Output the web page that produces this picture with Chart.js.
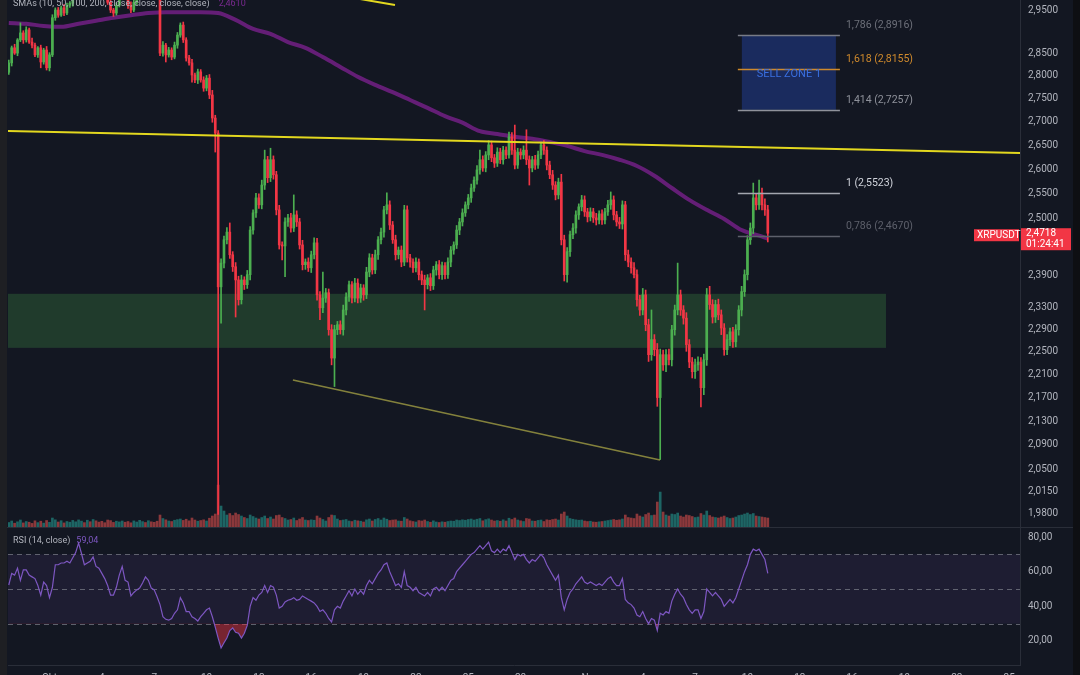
<!DOCTYPE html>
<html>
<head>
<meta charset="utf-8">
<script src="https://cdn.jsdelivr.net/npm/chart.js@4.4.0/dist/chart.umd.min.js"></script>
<style>
  html, body { margin: 0; padding: 0; background: #131722; overflow: hidden; width: 1080px; height: 675px; }
  #wrap { position: relative; width: 1080px; height: 675px; }
  #main { position: absolute; left: 0; top: 0; }
  #rsi { position: absolute; left: 0; top: 528px; }
  .lstrip { position: absolute; left: 0; top: 0; width: 7px; height: 675px; background: #1e1f23; }
  .rstrip { position: absolute; left: 1073px; top: 0; width: 7px; height: 675px; background: #0e0f13; }
</style>
</head>
<body>
<div id="wrap">
  <canvas id="main" width="1080" height="528"></canvas>
  <canvas id="rsi" width="1080" height="160"></canvas>
  <div class="lstrip"></div>
  <div class="rstrip"></div>
</div>
<script>
// XRPUSDT 4h candles, x axis in days since 1 Oct
const firstDay = -2 - 1 / 3;
const firstOpen = 2.808;

const closes = [
  2.829, 2.863, 2.851, 2.881, 2.897, 2.881, 2.904, 2.876, 2.869, 2.847,
  2.863, 2.831, 2.858, 2.818, 2.847, 2.932, 2.950, 2.938, 2.955, 2.943,
  2.961, 2.966, 2.985, 2.992, 3.009, 3.021, 3.016, 3.033, 3.026, 3.040,
  3.021, 3.009, 2.997, 2.985, 2.968, 2.950, 2.943, 2.961, 2.980, 2.992,
  2.980, 2.961, 2.950, 2.968, 2.985, 2.997, 3.009, 3.002, 3.016, 3.002,
  2.992, 2.980, 2.851, 2.869, 2.847, 2.858, 2.842, 2.869, 2.892, 2.915,
  2.881, 2.840, 2.829, 2.802, 2.791, 2.809, 2.791, 2.773, 2.795, 2.758,
  2.708, 2.676, 2.369, 2.414, 2.459, 2.474, 2.430, 2.407, 2.382, 2.345,
  2.382, 2.373, 2.392, 2.478, 2.512, 2.542, 2.528, 2.568, 2.620, 2.583,
  2.620, 2.589, 2.518, 2.449, 2.447, 2.494, 2.502, 2.482, 2.508, 2.494,
  2.449, 2.411, 2.416, 2.405, 2.430, 2.453, 2.354, 2.330, 2.348, 2.358,
  2.290, 2.239, 2.290, 2.299, 2.290, 2.326, 2.350, 2.373, 2.348, 2.376,
  2.348, 2.367, 2.354, 2.397, 2.424, 2.401, 2.430, 2.459, 2.474, 2.518,
  2.528, 2.488, 2.459, 2.430, 2.439, 2.416, 2.518, 2.424, 2.416, 2.405,
  2.416, 2.392, 2.382, 2.373, 2.386, 2.371, 2.401, 2.411, 2.392, 2.409,
  2.392, 2.416, 2.439, 2.449, 2.478, 2.494, 2.512, 2.528, 2.542, 2.562,
  2.578, 2.599, 2.620, 2.603, 2.630, 2.651, 2.624, 2.613, 2.636, 2.620,
  2.640, 2.630, 2.668, 2.640, 2.609, 2.636, 2.630, 2.640, 2.620, 2.603,
  2.620, 2.609, 2.630, 2.651, 2.640, 2.609, 2.589, 2.568, 2.548, 2.574,
  2.459, 2.392, 2.436, 2.469, 2.482, 2.508, 2.524, 2.538, 2.514, 2.504,
  2.514, 2.502, 2.498, 2.510, 2.498, 2.514, 2.528, 2.538, 2.508, 2.494,
  2.490, 2.528, 2.430, 2.416, 2.405, 2.392, 2.345, 2.326, 2.354, 2.299,
  2.245, 2.272, 2.254, 2.170, 2.245, 2.227, 2.245, 2.236, 2.290, 2.326,
  2.354, 2.326, 2.311, 2.263, 2.232, 2.215, 2.227, 2.232, 2.187, 2.236,
  2.354, 2.336, 2.313, 2.336, 2.317, 2.293, 2.254, 2.272, 2.286, 2.268,
  2.290, 2.326, 2.360, 2.392, 2.459, 2.482, 2.542, 2.528, 2.552, 2.528,
  2.518, 2.4718
];

// wick lengths above / below the body, in thousandths
const wickUp = [
  6,4,8,3,23,5,7,4,9,5, 3,6,4,8,5,7,5,6,4,8, 5,4,6,5,7,4,6,5,8,6, 5,7,4,6,8,5,4,6,7,5,
  6,4,8,5,6,7,4,6,5,7, 5,6,10,8,4,6,5,7,6,5, 7,5,6,8,4,6,5,7,6,8, 10,6,5,8,7,9,18,6,8,7,
  9,6,8,7,6,9,8,10,20,7, 24,8,7,9,6,8,7,9,40,8, 7,9,6,8,7,10,9,6,49,8, 7,9,8,6,7,9,8,7,6,9,
  8,7,6,9,8,7,9,6,8,7, 24,8,7,9,6,8,9,8,7,6, 8,6,7,9,6,8,7,6,8,7, 6,8,7,6,9,7,8,6,7,8,
  7,9,20,8,7,9,8,7,9,8, 8,7,10,9,53,8,7,9,43,8, 7,9,8,6,9,7,8,9,7,8, 16,9,8,7,9,8,6,9,8,7,
  8,7,9,6,8,7,9,16,8,7, 9,8,7,9,8,10,9,8,12,9, 10,54,9,11,10,8,9,10,8,9, 60,9,8,10,9,8,10,9,8,10,
  12,16,9,8,10,9,8,9,7,8, 9,8,10,9,8,10,30,9,26,10, 12,9
];
const wickDn = [
  5,7,3,6,4,8,5,3,6,4, 6,13,5,5,7,4,6,5,3,6, 4,5,7,6,4,5,6,4,7,5, 6,5,4,7,5,6,8,5,4,6,
  5,7,6,4,5,6,5,7,4,6, 6,5,6,7,16,5,6,4,7,5, 6,7,5,16,6,8,5,7,6,8, 9,40,391,67,9,8,7,9,69,10,
  8,9,7,10,8,9,7,8,9,10, 8,9,10,8,27,59,9,8,7,9, 8,10,9,7,9,8,10,22,9,8, 10,12,50,9,8,10,9,8,9,7,
  9,8,10,7,9,8,7,9,8,10, 8,9,7,10,8,9,7,8,10,9, 8,10,9,47,8,9,7,10,8,9, 8,7,9,8,7,9,8,7,8,9,
  7,8,9,7,8,10,8,9,7,8, 9,8,7,9,8,7,9,8,10,35, 8,9,7,8,9,10,8,9,10,8, 10,12,14,9,8,10,9,8,9,10,
  8,9,10,8,9,8,7,9,10,8, 9,10,11,9,10,6,12,10,9,11, 12,10,11,15,104,10,12,9,11,10, 9,10,11,12,10,11,12,10,33,12,
  10,9,11,10,9,12,10,9,11,10, 9,10,11,9,10,9,11,10,9,10, 11,17
];

// volume, millions
const volumes = [
  45,60,38,52,70,41,55,48,36,62, 44,58,39,65,47,90,72,50,63,41, 55,48,66,52,71,59,44,68,53,75,
  62,49,57,43,70,64,46,58,51,60, 48,55,42,61,50,67,54,45,63,52, 47,58,120,85,72,60,55,68,74,80,
  66,78,62,90,70,58,65,72,60,88, 110,130,420,210,160,120,135,115,140,125, 110,95,85,120,105,90,80,95,110,85,
  100,80,115,120,95,85,70,75,90,65, 80,95,70,65,72,68,110,90,75,60, 95,120,115,80,65,70,75,60,55,68,
  62,58,50,72,80,60,75,85,70,90, 78,65,70,72,60,58,95,80,62,55, 50,65,60,70,55,48,62,50,45,52,
  48,55,60,58,70,65,72,68,75,80, 70,78,85,62,74,82,70,60,65,58, 72,60,88,75,90,70,62,55,85,80,
  60,58,66,70,55,72,68,75,80,70, 130,150,110,85,78,72,68,70,60,55, 58,50,48,52,55,60,65,70,75,68,
  72,80,120,95,90,85,130,110,100,125, 140,115,120,250,350,150,120,110,130,125, 140,110,100,120,115,105,95,100,135,120,
  160,115,100,95,90,100,110,95,85,90, 100,115,120,130,140,125,135,110,105,100, 95,90
];

const rsiValues = [
  52.3,59,58,62,55,61,61,58,57,56, 52,46.5,54,52,45,51,64,64,65,65,
  66,65,68,71,76.5,70.5,64,65,66,68.5, 63,62,59,56,52,46.5,46.5,51,58,63,
  55,54,46,48,49.5,50.5,53.5,57,55,50.5, 49.5,45.5,41,34,32.5,32,33,36,38,45,
  42,37,37,34,33,31.5,34,36,38,39, 34,28,21.7,16,19,21.7,26,27.5,25,24.5,
  21.7,24.5,29,40,45,43.5,46.5,48,52,48, 52,51,46.5,39,40,42.5,43.5,44,45,43.5,
  44,46,45,44,43,42,40, 37,38,36,33,31, 38,40,39,43,46, 49,46,50,47,49,47,
  52,55,53,56,59,61,64,65, 60,56,52,53,51, 60,52,51,49,51,
  48,47,46,48,46,50,51,49,51,49, 52,55,56,60,62,64,66,68,70,71,73,
  75,73,75,77,72,71,73,71,73,72, 75,71,67,70,69,70,67,65,67,
  66,68,70,68,64,61,58,55,58, 45,38,44,48,50, 53,55,57,54,53,54,53,52,53,52,54,
  56,57,54,52,52,56, 44,42,41,39,35,34,37, 33,30,33,32,26,36, 35,37,36,43,47,50,
  47,45,41,38,36,38,38,33,37, 50,48,46,48,46,44,40,42,44,42,45, 50,55,60,64,70,73,72,73,70,67,59.04
];

// SMA 200, one value per day plus the last candle
const sma200 = [
  2.920, 2.918, 2.913, 2.911, 2.918, 2.925, 2.932, 2.938, 2.943, 2.945,
  2.945, 2.945, 2.943, 2.927, 2.906, 2.895, 2.876, 2.863, 2.842, 2.820,
  2.798, 2.780, 2.764, 2.747, 2.730, 2.712, 2.698, 2.680, 2.674, 2.668,
  2.664, 2.657, 2.649, 2.638, 2.630, 2.620, 2.607, 2.587, 2.562, 2.538,
  2.518, 2.500, 2.478, 2.467, 2.461
];

const priceTicks = [2.95, 2.85, 2.80, 2.75, 2.70, 2.65, 2.60, 2.55, 2.50, 2.39, 2.33, 2.29, 2.25, 2.21, 2.17, 2.13, 2.09, 2.05, 2.015, 1.98];
const rsiTicks = [20, 40, 60, 80];
const dateTickDays = [0, 3, 6, 9, 12, 15, 18, 21, 24, 27, 31, 34, 37, 40, 43, 46, 49, 52, 55];
const dateTickLabels = ['Okt', '4', '7', '10', '13', '16', '19', '22', '25', '28', 'Nov', '4', '7', '10', '13', '16', '19', '22', '25'];

// drawings
const fibLevels = ['1,786', '1,618', '1,414', '1', '0,786'];
const fibPrices = [2.8916, 2.8155, 2.7257, 2.5523, 2.4670];
const fibDays = [39.45, 45.3];
const sellZoneDays = [39.68, 45.07];
const demandZone = [2.2572, 2.3559];
const demandZoneEnd = 47.94;
const resistX = [-2.378, 55.62], resistY = [2.6803, 2.634];
const upperX = [17.5, 19.8], upperY = [2.978, 2.9617];
const supportX = [13.95, 34.99], supportY = [2.2004, 2.0653];

const xMin = -2.378, xMax = 55.62;
const GREEN = '#4caf50', RED = '#f23645';
const TEXT = '#b2b5be';
const FONT = 'Roboto, "Noto Sans", sans-serif';

Chart.defaults.font.family = FONT;
Chart.defaults.color = TEXT;

const dayOf = i => firstDay + i / 6;
const candles = closes.map((c, i) => {
  const o = i === 0 ? firstOpen : closes[i - 1];
  return {
    x: dayOf(i), o, c,
    h: Math.max(o, c) + wickUp[i] / 1000,
    l: Math.min(o, c) - wickDn[i] / 1000
  };
});
const candleColor = candles.map(k => (k.c >= k.o ? GREEN : RED));
const volColor = candles.map(k => (k.c >= k.o ? 'rgba(38,166,154,0.55)' : 'rgba(239,83,80,0.55)'));
const smaPoints = sma200.map((v, k) => ({ x: k < 44 ? firstDay + k : dayOf(closes.length - 1), y: v }));
const fmt = (v, d) => v.toFixed(d).replace('.', ',');
const lastClose = closes[closes.length - 1];

// scales reserve room for their edge labels; the panes here run edge to edge
const noEdgePad = s => { s.paddingTop = 0; s.paddingBottom = 0; s.paddingLeft = 0; s.paddingRight = 0; };

const axisRight = (extra) => Object.assign({
  position: 'right',
  grid: { display: false, drawTicks: false },
  border: { display: true, color: '#2a2e39' },
  ticks: { color: TEXT, font: { size: 10 }, padding: 8, autoSkip: false },
  afterFit: s => { s.width = 60; noEdgePad(s); }
}, extra);

const mainOverlay = {
  id: 'mainOverlay',
  beforeDatasetsDraw(chart) {
    const { ctx, chartArea: a, scales: { x, y } } = chart;
    ctx.save();
    // demand zone
    const zTop = y.getPixelForValue(demandZone[1]), zBot = y.getPixelForValue(demandZone[0]);
    ctx.fillStyle = 'rgba(76,175,80,0.24)';
    ctx.fillRect(a.left, zTop, x.getPixelForValue(demandZoneEnd) - a.left, zBot - zTop);
    // sell zone box
    const s0 = x.getPixelForValue(sellZoneDays[0]), s1 = x.getPixelForValue(sellZoneDays[1]);
    const sTop = y.getPixelForValue(fibPrices[0]), sBot = y.getPixelForValue(fibPrices[2]);
    ctx.fillStyle = '#1a2b5e';
    ctx.fillRect(s0, sTop, s1 - s0, sBot - sTop);
    ctx.restore();
  },
  afterDatasetsDraw(chart) {
    const { ctx, scales: { x, y } } = chart;
    const f0 = x.getPixelForValue(fibDays[0]), f1 = x.getPixelForValue(fibDays[1]);
    const lineCol = ['#787b86', '#d08a2c', '#8f929b', '#a3a6af', '#5d606b'];
    const textCol = ['#6d707a', '#d08a2c', '#8f929b', '#d1d4dc', '#5d606b'];
    ctx.save();
    ctx.font = '10.5px ' + FONT;
    ctx.textBaseline = 'middle';
    fibPrices.forEach((p, k) => {
      const py = Math.round(y.getPixelForValue(p)) + 0.5;
      ctx.strokeStyle = lineCol[k];
      ctx.lineWidth = 1.5;
      ctx.beginPath(); ctx.moveTo(f0, py); ctx.lineTo(f1, py); ctx.stroke();
      ctx.fillStyle = textCol[k];
      ctx.fillText(fibLevels[k] + ' (' + fmt(p, 4) + ')', f1 + 6, py - 10);
    });
    ctx.fillStyle = '#3a6fe0';
    ctx.font = '11px ' + FONT;
    ctx.textAlign = 'center';
    const midX = (x.getPixelForValue(sellZoneDays[0]) + x.getPixelForValue(sellZoneDays[1])) / 2;
    ctx.fillText('SELL ZONE 1', midX, y.getPixelForValue(fibPrices[1]) + 5);
    ctx.restore();
  },
  afterDraw(chart) {
    const { ctx, chartArea: a, scales: { y } } = chart;
    ctx.save();
    // pane separator
    ctx.fillStyle = '#2a2e39';
    ctx.fillRect(0, a.bottom, chart.width, 1);
    // header
    ctx.font = '9px ' + FONT;
    ctx.textBaseline = 'alphabetic';
    ctx.fillStyle = TEXT;
    const head = 'SMAs (10, 50, 100, 200, close, close, close, close)';
    ctx.fillText(head, 13, 6);
    ctx.fillStyle = '#7b2a92';
    ctx.fillText(fmt(sma200[sma200.length - 1], 4), 13 + ctx.measureText(head).width + 9, 6);
    // last price tag
    const py = y.getPixelForValue(lastClose);
    ctx.fillStyle = RED;
    ctx.fillRect(a.right + 1, py - 5, 50, 22);
    ctx.fillRect(a.right - 46, py - 4, 45, 12);
    ctx.fillStyle = '#ffffff';
    ctx.textBaseline = 'middle';
    ctx.font = '10px ' + FONT;
    ctx.fillText(fmt(lastClose, 4), a.right + 6, py + 0.5);
    ctx.fillText('01:24:41', a.right + 6, py + 11);
    ctx.fillText('XRPUSDT', a.right - 43, py + 2);
    ctx.restore();
  }
};

new Chart(document.getElementById('main'), {
  data: {
    datasets: [
      {
        type: 'bar', label: 'Volume', yAxisID: 'vol', order: 6,
        data: candles.map((k, i) => ({ x: k.x, y: volumes[i] })),
        backgroundColor: volColor, barThickness: 2, grouped: false
      },
      {
        type: 'line', label: 'SMA 200', order: 5,
        data: smaPoints, borderColor: 'rgba(150,36,170,0.62)', borderWidth: 4,
        pointRadius: 0, tension: 0.4, cubicInterpolationMode: 'monotone'
      },
      {
        type: 'bar', label: 'Wicks', order: 4,
        data: candles.map(k => ({ x: k.x, y: [k.l, k.h] })),
        backgroundColor: candleColor, barThickness: 1, grouped: false
      },
      {
        type: 'bar', label: 'Bodies', order: 3,
        data: candles.map(k => ({ x: k.x, y: [k.o, k.c] })),
        backgroundColor: candleColor, barThickness: 2, minBarLength: 1, grouped: false
      },
      {
        type: 'line', label: 'Resistance', order: 2,
        data: resistX.map((v, i) => ({ x: v, y: resistY[i] })),
        borderColor: '#e3d81f', borderWidth: 2, pointRadius: 0
      },
      {
        type: 'line', label: 'Upper', order: 2,
        data: upperX.map((v, i) => ({ x: v, y: upperY[i] })),
        borderColor: '#e3d81f', borderWidth: 2, pointRadius: 0
      },
      {
        type: 'line', label: 'Support', order: 2,
        data: supportX.map((v, i) => ({ x: v, y: supportY[i] })),
        borderColor: 'rgba(170,165,70,0.75)', borderWidth: 1.5, pointRadius: 0
      }
    ]
  },
  options: {
    responsive: false,
    animation: false,
    layout: { autoPadding: false, padding: { left: 8, right: 0, top: 0, bottom: 1 } },
    plugins: { legend: { display: false }, tooltip: { enabled: false } },
    scales: {
      x: { type: 'linear', min: xMin, max: xMax, offset: false, display: false },
      y: axisRight({
        type: 'logarithmic', min: 1.9585, max: 2.9735, bounds: 'data',
        afterBuildTicks: s => { s.ticks = priceTicks.map(v => ({ value: v })); },
        ticks: { color: TEXT, font: { size: 10 }, padding: 8, autoSkip: false, callback: v => fmt(v, 4) }
      }),
      vol: { type: 'linear', min: 0, max: 5280, display: false }
    }
  },
  plugins: [mainOverlay]
});

const rsiOverlay = {
  id: 'rsiOverlay',
  beforeDatasetsDraw(chart) {
    const { ctx, chartArea: a, scales: { y } } = chart;
    const y70 = y.getPixelForValue(70), y30 = y.getPixelForValue(30);
    ctx.save();
    ctx.fillStyle = 'rgba(126,87,194,0.1)';
    ctx.fillRect(a.left, y70, a.right - a.left, y30 - y70);
    ctx.strokeStyle = 'rgba(120,123,134,0.75)';
    ctx.setLineDash([5, 4]);
    ctx.lineWidth = 1;
    [70, 50, 30].forEach(v => {
      const py = Math.round(y.getPixelForValue(v)) + 0.5;
      ctx.beginPath(); ctx.moveTo(a.left, py); ctx.lineTo(a.right, py); ctx.stroke();
    });
    ctx.restore();
  },
  afterDraw(chart) {
    const { ctx } = chart;
    ctx.save();
    ctx.font = '9px ' + FONT;
    ctx.textBaseline = 'middle';
    ctx.fillStyle = TEXT;
    const head = 'RSI (14, close)';
    ctx.fillText(head, 13, 13);
    ctx.fillStyle = '#7e57c2';
    ctx.fillText(fmt(rsiValues[rsiValues.length - 1], 2), 13 + ctx.measureText(head).width + 6, 13);
    ctx.restore();
  }
};

new Chart(document.getElementById('rsi'), {
  type: 'line',
  data: {
    datasets: [{
      label: 'RSI',
      data: rsiValues.map((v, i) => ({ x: dayOf(i), y: v })),
      borderColor: '#7e57c2', borderWidth: 1.2, pointRadius: 0,
      fill: { target: { value: 30 }, above: 'rgba(0,0,0,0)', below: 'rgba(242,54,69,0.45)' }
    }]
  },
  options: {
    responsive: false,
    animation: false,
    layout: { autoPadding: false, padding: { left: 8, right: 0, top: 0, bottom: 0 } },
    plugins: { legend: { display: false }, tooltip: { enabled: false } },
    scales: {
      x: {
        type: 'linear', min: xMin, max: xMax,
        grid: { display: false, drawTicks: false },
        border: { display: true, color: '#2a2e39' },
        afterBuildTicks: s => { s.ticks = dateTickDays.map(v => ({ value: v })); },
        afterFit: s => { s.height = 23; noEdgePad(s); },
        ticks: {
          color: TEXT, font: { size: 10 }, padding: 7, autoSkip: false, maxRotation: 0,
          callback: (v, i) => dateTickLabels[i]
        }
      },
      y: axisRight({
        min: 6.15, max: 85.2,
        afterBuildTicks: s => { s.ticks = rsiTicks.map(v => ({ value: v })); },
        ticks: { color: TEXT, font: { size: 10 }, padding: 8, autoSkip: false, callback: v => fmt(v, 2) }
      })
    }
  },
  plugins: [rsiOverlay]
});
</script>
</body>
</html>
